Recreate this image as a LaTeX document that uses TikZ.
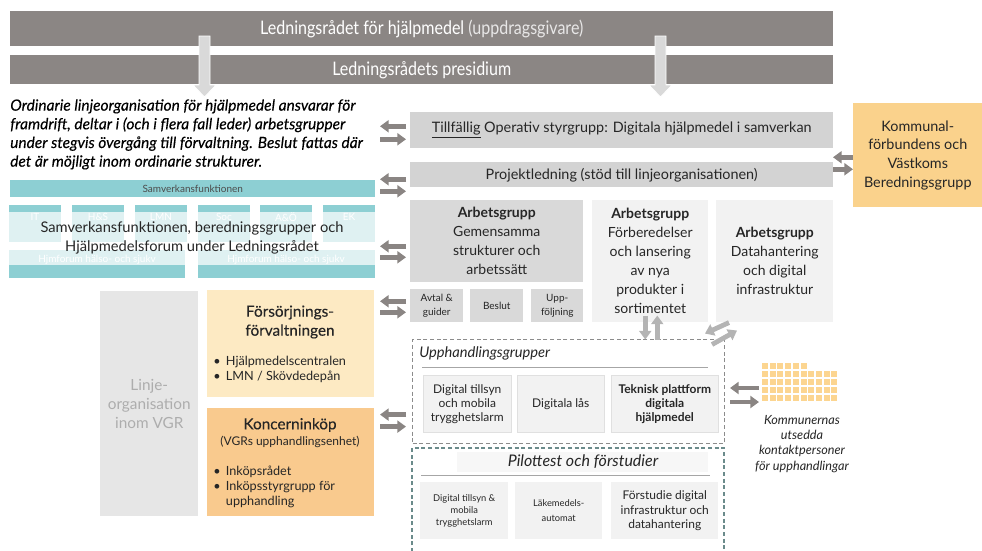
\documentclass[tikz,border=0pt]{standalone}
\usepackage{fontspec}
\setmainfont{Lato}
\newfontfamily\condfont[FakeStretch=0.86]{Lato}
\newfontfamily\semifont[FakeBold=0.2]{Lato}
\usetikzlibrary{arrows.meta}

\definecolor{barcol}{HTML}{8B8684}
\definecolor{boxgray}{HTML}{D3D3D3}
\definecolor{aggray}{HTML}{D9D9D9}
\definecolor{palegray}{HTML}{F2F2F2}
\definecolor{tealcol}{HTML}{8DCFD3}
\definecolor{kfcol}{HTML}{FAD28C}
\definecolor{forcol}{HTML}{FDEAC3}
\definecolor{koncol}{HTML}{F9CA8E}
\definecolor{linjecol}{HTML}{E6E6E6}
\definecolor{linjetxt}{HTML}{ADADAD}
\definecolor{arrcol}{HTML}{8A8583}
\definecolor{lightarr}{HTML}{B4B4B4}
\definecolor{txtcol}{HTML}{262626}
\definecolor{upphdash}{HTML}{8C8C8C}
\definecolor{pilotdash}{HTML}{6B8B8B}
\definecolor{gridcol}{HTML}{FCD590}

\tikzset{
  sz/.style 2 args={minimum width=#1*0.75pt, minimum height=#2*0.75pt},
  box/.style={anchor=north west, inner sep=0pt, align=center, text=txtcol},
  barbox/.style={box, fill=barcol, text=white, font=\condfont\fontsize{14}{16}\selectfont},
  agtext/.style={font=\fontsize{10.5}{14.25}\selectfont},
  smalltext/.style={font=\fontsize{7.5}{10}\selectfont},
  flowarr/.style={draw=arrcol, line width=3.6pt, -{Triangle[length=6.5pt,width=9pt]}},
  lightflow/.style={flowarr, draw=lightarr},
  downarr/.style={fill=aggray, draw=white, line width=0.6pt},
  fadelbl/.style={text=white, font=\fontsize{7.5}{9}\selectfont},
  hdr/.style={font=\itshape\fontsize{11}{13}\selectfont, text=txtcol, inner sep=0pt},
  bullets/.style={anchor=north west, inner sep=0pt, align=left, text=txtcol, font=\fontsize{9.5}{11.5}\selectfont},
}

\begin{document}
\begin{tikzpicture}[x=0.75pt, y=-0.75pt]
\useasboundingbox (0,0) rectangle (982,550);

\node[barbox, sz={823}{35}] (lr) at (10,11) {Ledningsrådet för hjälpmedel \textcolor{white!80!barcol}{(uppdragsgivare)}};
\node[barbox, sz={823}{29}] (pres) at (10,55) {Ledningsrådets presidium};
\draw[downarr] (199,36) -- (210,36) -- (210,85) -- (216,85) -- (204.5,97) -- (193,85) -- (199,85) -- cycle;
\draw[downarr] (655,36) -- (666,36) -- (666,85) -- (672,85) -- (660.5,97) -- (649,85) -- (655,85) -- cycle;

\node[anchor=north west, inner sep=0pt, align=left, text=black, font=\semifont\itshape\fontsize{11.6}{14}\selectfont] (info) at (10,99)
  {Ordinarie linjeorganisation för hjälpmedel ansvarar för\\framdrift, deltar i (och i flera fall leder) arbetsgrupper\\under stegvis övergång till förvaltning. Beslut fattas där\\det är möjligt inom ordinarie strukturer.};

\node[box, fill=boxgray, sz={423}{36}, font=\fontsize{10.8}{12}\selectfont] (tillf) at (410,112) {\underline{Tillfällig} Operativ styrgrupp: Digitala hjälpmedel i samverkan};
\node[box, fill=boxgray, sz={423}{25}, font=\fontsize{10.8}{12}\selectfont] (proj) at (410,162) {Projektledning (stöd till linjeorganisationen)};
\node[box, fill=kfcol, sz={129}{104}, font=\fontsize{10.8}{13.9}\selectfont] (komm) at (853,103) {Kommunal-\\förbundens och\\Västkoms\\Beredningsgrupp};

\node[box, fill=tealcol, sz={365}{17}, text=black!70, font=\fontsize{7.5}{9}\selectfont] (samv) at (10,180) {Samverkansfunktionen};
\node[box, fill=tealcol, sz={52}{37}] (it) at (9,205) {};
\node[box, fill=tealcol, sz={52}{37}] (hs) at (72,205) {};
\node[box, fill=tealcol, sz={52}{37}] (lmn) at (135,205) {};
\node[box, fill=tealcol, sz={52}{37}] (soc) at (198,205) {};
\node[box, fill=tealcol, sz={52}{37}] (ao) at (260,205) {};
\node[box, fill=tealcol, sz={52}{37}] (ek) at (323,205) {};
\node[fadelbl] at (35,217) {IT};
\node[fadelbl] at (98,217) {H\&S};
\node[fadelbl] at (161,217) {LMN};
\node[fadelbl] at (224,217) {Soc};
\node[fadelbl] at (286,217) {A\&Ö};
\node[fadelbl] at (349,217) {EK};
\node[box, fill=tealcol, sz={176}{28}] (hjm1) at (9,250) {};
\node[box, fill=tealcol, sz={177}{28}] (hjm2) at (198,250) {};
\node[fadelbl] at (97,260) {Hjmforum hälso- och sjukv};
\node[fadelbl] at (286,260) {Hjmforum hälso- och sjukv};
\fill[white, opacity=0.72] (9,212) rectangle (375,265);
\node[align=center, inner sep=0pt, text=txtcol, font=\fontsize{11}{14.25}\selectfont] (samtxt) at (192,238) {Samverkansfunktionen, beredningsgrupper och\\Hjälpmedelsforum under Ledningsrådet};

\node[box, fill=aggray, sz={173}{82}, agtext] (ag1) at (410,200) {\textbf{Arbetsgrupp}\\Gemensamma\\strukturer och\\arbetssätt};
\node[box, fill=palegray, sz={116}{122}, agtext] (ag2) at (592,200) {\textbf{Arbetsgrupp}\\Förberedelser\\och lansering\\av nya\\produkter i\\sortimentet};
\node[box, fill=palegray, sz={117}{122}, agtext] (ag3) at (716,200) {\textbf{Arbetsgrupp}\\Datahantering\\och digital\\infrastruktur};
\node[box, fill=aggray, sz={53}{33}, smalltext] (avtal) at (410,289) {Avtal \&\\guider};
\node[box, fill=aggray, sz={53}{33}, smalltext] (beslut) at (470,289) {Beslut};
\node[box, fill=aggray, sz={52}{33}, smalltext] (uppf) at (531,289) {Upp-\\följning};

\node[box, fill=linjecol, sz={98}{225}, text=linjetxt, font=\fontsize{11.5}{14.25}\selectfont] (linje) at (100,291) {Linje-\\organisation\\inom VGR};
\node[box, fill=forcol, sz={167}{107}] (fors) at (207,290) {};
\node[align=center, inner sep=0pt, text=txtcol, font=\semifont\fontsize{11.5}{14.25}\selectfont] (forstitle) at (290,322) {Försörjnings-\\förvaltningen};
\node[bullets] (forslist) at (213,356) {\textbullet\hspace{4pt}Hjälpmedelscentralen\\\textbullet\hspace{4pt}LMN / Skövdedepån};
\node[box, fill=koncol, sz={167}{108}] (konc) at (207,408) {};
\node[inner sep=0pt, text=txtcol, font=\semifont\fontsize{11.5}{13}\selectfont] (konctitle) at (290,425) {Koncerninköp};
\node[inner sep=0pt, text=txtcol, font=\fontsize{9}{11}\selectfont] (koncsub) at (290,442) {(VGRs upphandlingsenhet)};
\node[bullets, font=\fontsize{9.5}{11}\selectfont] (konclist) at (213,466) {\textbullet\hspace{4pt}Inköpsrådet\\\textbullet\hspace{4pt}Inköpsstyrgrupp för\\\phantom{\textbullet}\hspace{4pt}upphandling};

\node[box, draw=upphdash, dash pattern=on 3pt off 2pt, line width=0.9pt, sz={312}{104}] (upph) at (412,339) {};
\node[hdr, anchor=west] (upphhdr) at (419,353) {Upphandlingsgrupper};
\draw[black!35] (422,367) -- (708,367);
\node[box, fill=palegray, draw=black!12, sz={88}{57}, font=\fontsize{9}{10.5}\selectfont] (dts) at (423,375) {Digital tillsyn\\och mobila\\trygghetslarm};
\node[box, fill=palegray, draw=black!12, sz={87}{57}, font=\fontsize{9}{10.5}\selectfont] (dlas) at (517,375) {Digitala lås};
\node[box, fill=palegray, draw=black!12, sz={107}{57}, font=\bfseries\fontsize{9}{10.5}\selectfont] (tekn) at (611,375) {Teknisk plattform\\digitala\\hjälpmedel};

\draw[pilotdash, dash pattern=on 3pt off 2pt, line width=0.9pt] (412,552) -- (412,448) -- (724,448) -- (724,552);
\fill[black!3] (457,452) rectangle (708,472);
\node[hdr, font=\itshape\fontsize{12}{14}\selectfont] (pilothdr) at (583,462) {Pilottest och förstudier};
\draw[black!35] (421,475) -- (710,475);
\node[box, fill=palegray, sz={88}{57}, font=\fontsize{7}{9}\selectfont] (pdts) at (420,482) {Digital tillsyn \&\\mobila\\trygghetslarm};
\node[box, fill=palegray, sz={87}{57}, font=\fontsize{7}{11}\selectfont] (lakem) at (515,482) {Läkemedels-\\automat};
\node[box, fill=palegray, sz={107}{57}, font=\fontsize{9}{11}\selectfont] (forst) at (611,482) {Förstudie digital\\infrastruktur och\\datahantering};

\foreach \i in {0,...,5} \fill[gridcol] (762+7.7*\i,363) rectangle ++(6,6);
\foreach \r in {1,...,4} \foreach \i in {0,...,9} \fill[gridcol] (762+7.7*\i,363+8*\r) rectangle ++(6,6);
\coordinate (gridw) at (760,395);
\node[align=center, inner sep=0pt, text=txtcol, font=\itshape\fontsize{9.5}{11.4}\selectfont] (kontakt) at (802,444) {Kommunernas\\utsedda\\kontaktpersoner\\för upphandlingar};

\draw[flowarr] (tillf.west) ++(-4,-4) -- ++(-26,0);
\draw[flowarr] (tillf.west) ++(-30,9) -- ++(26,0);
\draw[flowarr] (proj.west) ++(-4,4.5) -- ++(-26,0);
\draw[flowarr] (proj.west) ++(-30,16.5) -- ++(26,0);
\draw[flowarr] (ag1.west) ++(-4,5) -- ++(-26,0);
\draw[flowarr] (ag1.west) ++(-30,16) -- ++(26,0);
\draw[flowarr] (avtal.west) ++(-4,-4.5) -- ++(-26,0);
\draw[flowarr] (avtal.west) ++(-30,6.5) -- ++(26,0);
\draw[flowarr] (upph.west) ++(-6,23) -- ++(-26,0);
\draw[flowarr] (upph.west) ++(-32,35) -- ++(26,0);
\draw[flowarr] (komm.west) ++(0,2) -- ++(-20,0);
\draw[flowarr] (komm.west) ++(-20,14) -- ++(20,0);
\draw[flowarr] (gridw) ++(-1,-7) -- ++(-29,0);
\draw[flowarr] (gridw) ++(-30,7) -- ++(29,0);
\draw[lightflow] (ag2.south) ++(-5,-7) -- ++(0,24);
\draw[lightflow] (ag2.south) ++(7,17) -- ++(0,-24);
\draw[lightflow] (ag3.south west) ++(13,0) -- ++(-24,11);
\draw[lightflow] (ag3.south west) ++(-4,22) -- ++(25,-14);

\end{tikzpicture}
\end{document}
